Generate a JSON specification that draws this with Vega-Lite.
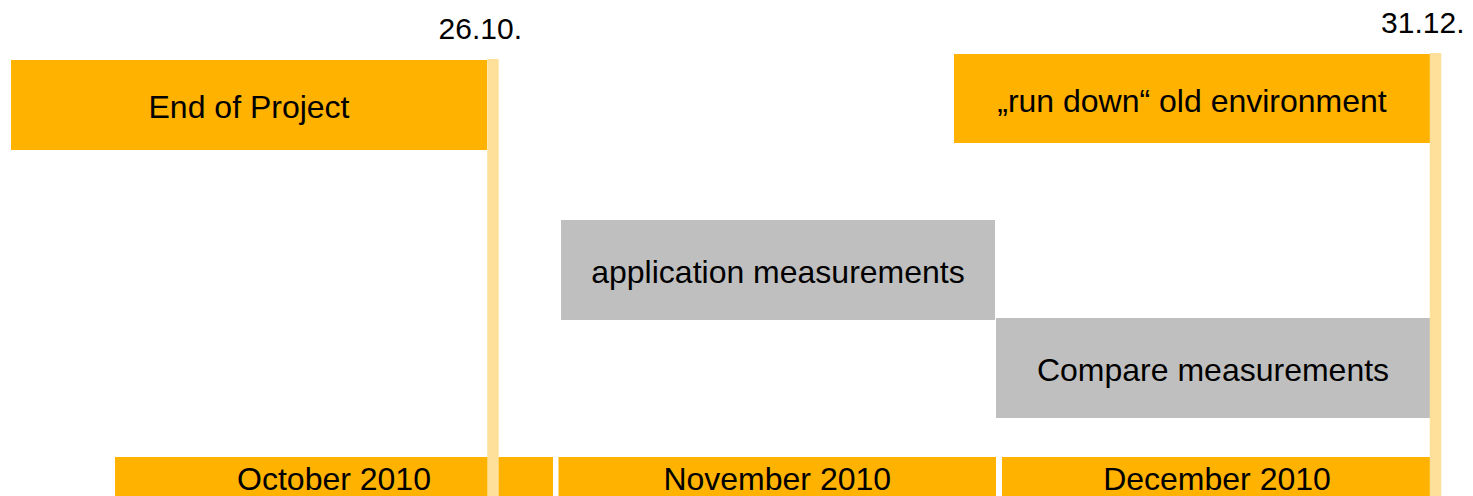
{
  "$schema": "https://vega.github.io/schema/vega-lite/v6.json",
  "width": 1473,
  "height": 496,
  "padding": 0,
  "autosize": {"type": "none"},
  "config": {"view": {"stroke": null}, "font": "Liberation Sans"},
  "datasets": {
    "tasks": [
      {"task": "End of Project", "start": -0.2345, "end": 0.8388, "top": 12.10, "bottom": 30.24, "kind": "project"},
      {"task": "„run down“ old environment", "start": 1.8918, "end": 2.9650, "top": 10.89, "bottom": 28.83, "kind": "project"},
      {"task": "application measurements", "start": 1.0056, "end": 1.9842, "top": 44.35, "bottom": 64.52, "kind": "measurement"},
      {"task": "Compare measurements", "start": 1.9865, "end": 2.9650, "top": 64.11, "bottom": 84.27, "kind": "measurement"},
      {"task": "October 2010", "start": 0.0, "end": 0.9876, "top": 92.14, "bottom": 100, "kind": "month"},
      {"task": "November 2010", "start": 1.0, "end": 1.9865, "top": 92.14, "bottom": 100, "kind": "month"},
      {"task": "December 2010", "start": 2.0, "end": 2.9696, "top": 92.14, "bottom": 100, "kind": "month"}
    ],
    "milestones": [
      {"label": "26.10.", "at": 0.8523, "top": 11.9},
      {"label": "31.12.", "at": 2.9775, "top": 10.7}
    ]
  },
  "layer": [
    {
      "data": {"name": "tasks"},
      "mark": {"type": "rect"},
      "encoding": {
        "x": {"field": "start", "type": "quantitative", "scale": {"domain": [-0.2593, 3.0620], "nice": false, "zero": false}, "axis": null},
        "x2": {"field": "end"},
        "y": {"field": "top", "type": "quantitative", "scale": {"domain": [0, 100], "reverse": true, "nice": false, "zero": false}, "axis": null},
        "y2": {"field": "bottom"},
        "color": {"field": "kind", "type": "nominal", "scale": {"domain": ["project", "measurement", "month"], "range": ["#FFB200", "#BFBFBF", "#FFB200"]}, "legend": null}
      }
    },
    {
      "data": {"name": "milestones"},
      "mark": {"type": "rule", "strokeWidth": 11.5, "color": "#FFE09B"},
      "encoding": {
        "x": {"field": "at", "type": "quantitative"},
        "y": {"field": "top", "type": "quantitative"},
        "y2": {"datum": 100}
      }
    },
    {
      "data": {"name": "tasks"},
      "transform": [
        {"calculate": "(datum.start + datum.end) / 2", "as": "mid_x"},
        {"calculate": "(datum.top + datum.bottom) / 2", "as": "mid_y"}
      ],
      "mark": {"type": "text", "fontSize": 32, "align": "center", "baseline": "middle", "dy": 3, "color": "#000000"},
      "encoding": {
        "x": {"field": "mid_x", "type": "quantitative"},
        "y": {"field": "mid_y", "type": "quantitative"},
        "text": {"field": "task"}
      }
    },
    {
      "data": {"name": "milestones"},
      "mark": {"type": "text", "fontSize": 30, "align": "right", "baseline": "alphabetic", "dx": 29, "dy": -20, "color": "#000000"},
      "encoding": {
        "x": {"field": "at", "type": "quantitative"},
        "y": {"field": "top", "type": "quantitative"},
        "text": {"field": "label"}
      }
    }
  ]
}
